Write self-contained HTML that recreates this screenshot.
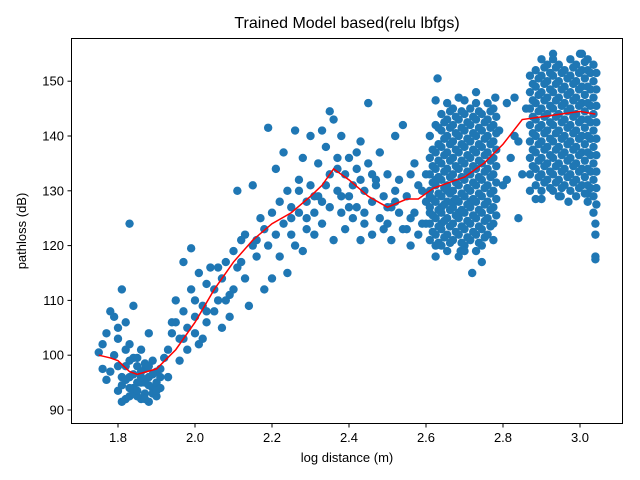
<!DOCTYPE html>
<html><head><meta charset="utf-8">
<style>
body{margin:0;background:#fff;}
svg{display:block;font-family:"Liberation Sans","DejaVu Sans",sans-serif;}
</style></head>
<body>
<svg id="chart" width="640" height="480" viewBox="0 0 640 480">
<rect width="640" height="480" fill="#fff"/>
<text x="347" y="28" text-anchor="middle" font-size="16">Trained Model based(relu lbfgs)</text>
<g id="plot"></g>
<rect x="71.5" y="38.5" width="551" height="385" fill="none" stroke="#000" stroke-width="1"/>
<g id="ticks"></g>
<text x="347" y="462" text-anchor="middle" font-size="13">log distance (m)</text>
<text transform="translate(26,231) rotate(-90)" text-anchor="middle" font-size="13">pathloss (dB)</text>
</svg>
<script>
const xTicks=[1.8,2.0,2.2,2.4,2.6,2.8,3.0];
const xTickLabels=["1.8","2.0","2.2","2.4","2.6","2.8","3.0"];
const yTicks=[90,100,110,120,130,140,150];
const yTickLabels=["90","100","110","120","130","140","150"];
const sparseX=[1.75,1.76,1.77,1.78,1.78,1.79,1.8,1.8,1.81,1.81,1.82,1.82,1.83,1.83,1.84,1.84,1.85,1.85,1.86,1.86,1.87,1.87,1.88,1.88,1.89,1.89,1.9,1.9,1.91,1.92,1.79,1.8,1.81,1.82,1.83,1.84,1.86,1.87,1.88,1.89,1.9,1.91,1.77,1.82,1.85,1.93,1.8,1.83,1.76,1.84,
1.81,1.82,1.83,1.84,1.85,1.86,1.87,1.88,1.89,1.9,1.85,1.87,1.83,1.88,1.91,1.86,
1.93,1.94,1.95,1.95,1.96,1.97,1.97,1.98,1.98,1.99,1.99,2.0,2.0,2.01,2.01,2.02,2.03,2.03,2.04,2.05,2.05,2.06,2.07,2.07,2.08,2.09,2.1,2.1,2.11,2.11,2.12,2.13,2.13,2.14,2.15,2.15,2.16,2.17,2.18,2.18,2.19,2.19,2.2,2.2,1.96,2.02,2.06,2.09,
1.94,1.97,2.0,2.03,2.08,2.12,2.16,
2.21,2.21,2.22,2.22,2.23,2.23,2.24,2.24,2.25,2.25,2.26,2.26,2.27,2.27,2.28,2.28,2.29,2.29,2.3,2.3,2.31,2.31,2.32,2.32,2.33,2.33,2.34,2.34,2.35,2.35,2.36,2.36,2.37,2.37,2.38,2.38,2.39,2.39,2.4,2.4,2.41,2.41,2.42,2.42,2.43,2.43,2.44,2.44,2.45,2.45,2.46,2.46,2.47,2.48,2.48,2.49,2.5,2.5,2.51,2.51,2.52,2.52,2.53,2.54,2.54,2.55,2.56,2.56,2.57,2.58,2.59,2.6,
2.25,2.29,2.33,2.37,2.4,2.43,2.46,2.49,2.52,2.55,2.58,2.47,2.5,2.53,2.56,2.59,2.57,2.35,2.38,2.44,2.42,2.31,2.27,2.6,2.6,
2.69,2.72,2.8,2.79,2.82,2.83,2.84,2.85,2.86,2.78,2.81,2.83,2.63,2.7,2.73,3.04,3.04,3.04,3.04,2.93,3.0,2.9,2.95,2.97,3.02,2.81,2.84];
const sparseY=[100.5,102,95.5,108,97,107,93.5,103,112,96,106,92,124,99,94,109,92.5,98,95,101,93,97.5,91.5,96,94,99,95,97,96,99.5,100,105,91.5,98,102,96.5,92,95,104,93,92.5,94,104,101,95,96,98,94,97.5,99.5,
94.5,95.5,92.5,93,93.5,97,92,94.5,96.5,93.5,99.5,98.5,96,98,97.5,96,
101,104,110,106,103,108,117,101,105,119.5,112,104,107,115,102,109,106,113,116,108,112,110,114,105,117,107,112,119,130,116,121,114,122,109,120,131,118,125,112,123,141.5,120,114,126,99,103,116,111,
106,103,110,108,110,117,121,
122,134,118,128,124,137,130,115,122,127,141,120,126,132,119,136,128,123,140,131,126,122,135,129,141,124,131,138,127,133,143,121,136,130,126,140,133,123,129,136,131,125,134,127,139,121,130,124,135,146,128,122,132,125,137,129,124,133,127,121,140,130,126,142,123,129,133,120,126,131,124,128,
125,125,128,134,127,132,133,123,128,123,122,131,127,132,125,130,135,144.5,129,126,137,129,130,124,133,
119,115,131,141,136,147,139,133,145,147,146,140,150.5,146.5,148,124,122,118,117.5,155,155,128.5,129,128,129.5,132,125];
const denseCols=[2.61,2.625,2.64,2.655,2.67,2.685,2.7,2.715,2.73,2.745,2.76,2.775,
2.87,2.885,2.9,2.915,2.93,2.945,2.96,2.975,2.99,3.005,3.02,3.035];
const denseVals=[
[121,124,127,130,133,136,140,126,129],
[118,122,125,128,131,134,137,142,146.5,120,132],
[120,123,126,129,132,135,138,141,144,127,124],
[119,122,125,128,131,134,137,140,143,146,130],
[121,124,127,130,133,136,139,142,145,128],
[118,122,125,128,131,134,137,140,143,126,147],
[120,123,126,129,132,135,138,141,144,119],
[121,124,127,130,133,136,139,142,145,128],
[119,122,125,128,131,134,137,140,143,146],
[120,123,126,129,132,135,138,141,144,117],
[122,125,128,131,134,137,140,143,146],
[124,127,130,133,136,139,142,145,121],
[133,136,139,142,145,148,151,130],
[131,134,137,140,143,146,149,152,128.5],
[130,133,136,139,142,145,148,151,154],
[132,135,138,141,144,147,150,153],
[130,133,136,139,142,145,148,151,154],
[129,132,135,138,141,144,147,150,153],
[131,134,137,140,143,146,149,152],
[130,133,136,139,142,145,148,151,154],
[129,132,135,138,141,144,147,150,153],
[131,134,137,140,143,146,149,152,155],
[128,131,134,137,140,143,146,149,152,154],
[126,129,132,135,138,141,144,147,150,153]];
const denseCols2=[2.6175,2.6325,2.6475,2.6625,2.6775,2.6925,2.7075,2.7225,2.7375,2.7525,2.7675,2.7825,
2.8775,2.8925,2.9075,2.9225,2.9375,2.9525,2.9675,2.9825,2.9975,3.0125,3.0275,3.0425];
const denseVals2=[
[122.5,125.5,128.5,131.5,134.5,137.5],
[120.5,123.5,126.5,129.5,132.5,135.5,138.5,141.5],
[121.5,124.5,127.5,130.5,133.5,136.5,139.5,142.5],
[120.5,123.5,126.5,129.5,132.5,135.5,138.5,141.5,144.5],
[122.5,125.5,128.5,131.5,134.5,137.5,140.5,143.5],
[120.5,123.5,126.5,129.5,132.5,135.5,138.5,141.5,144.5],
[121.5,124.5,127.5,130.5,133.5,136.5,139.5,142.5],
[122.5,125.5,128.5,131.5,134.5,137.5,140.5,143.5],
[120.5,123.5,126.5,129.5,132.5,135.5,138.5,141.5,144.5],
[121.5,124.5,127.5,130.5,133.5,136.5,139.5,142.5],
[123.5,126.5,129.5,132.5,135.5,138.5,141.5,144.5],
[125.5,128.5,131.5,134.5,137.5,140.5,143.5],
[134.5,137.5,140.5,143.5,146.5,149.5],
[132.5,135.5,138.5,141.5,144.5,147.5,150.5],
[131.5,134.5,137.5,140.5,143.5,146.5,149.5,152.5],
[130.5,133.5,136.5,139.5,142.5,145.5,148.5,151.5],
[131.5,134.5,137.5,140.5,143.5,146.5,149.5,152.5],
[130.5,133.5,136.5,139.5,142.5,145.5,148.5,151.5],
[132.5,135.5,138.5,141.5,144.5,147.5,150.5],
[131.5,134.5,137.5,140.5,143.5,146.5,149.5,152.5],
[130.5,133.5,136.5,139.5,142.5,145.5,148.5,151.5],
[129.5,132.5,135.5,138.5,141.5,144.5,147.5,150.5,153.5],
[130.5,133.5,136.5,139.5,142.5,145.5,148.5,151.5],
[127.5,130.5,133.5,136.5,139.5,142.5,145.5,148.5,151.5]];
const lineX=[1.75,1.78,1.8,1.83,1.85,1.9,1.95,2.0,2.05,2.1,2.15,2.2,2.25,2.3,2.33,2.36,2.4,2.45,2.5,2.55,2.58,2.62,2.7,2.75,2.8,2.85,2.9,2.95,3.0,3.04];
const lineY=[100,99.5,99,97,96.5,97.5,101,106,112,117,121,124,126,129,131,134,132,129,127,128.5,128.5,130.5,132.5,135,138.5,143,143.5,144,144.5,144];

const NS="http://www.w3.org/2000/svg";
function sx(v){return 118+(v-1.8)*385;}
function sy(v){return 410-(v-90)*5.48;}
const plot=document.getElementById('plot');
const ticks=document.getElementById('ticks');
function dot(x,y){
  const c=document.createElementNS(NS,'circle');
  c.setAttribute('cx',sx(x));c.setAttribute('cy',sy(y));c.setAttribute('r',4.2);
  c.setAttribute('fill','#1f77b4');
  
  
  plot.appendChild(c);
}
for(let i=0;i<sparseX.length;i++)dot(sparseX[i],sparseY[i]);
for(let i=0;i<denseCols.length;i++)for(const y of denseVals[i])dot(denseCols[i],y);
for(let i=0;i<denseCols2.length;i++)for(const y of denseVals2[i])dot(denseCols2[i],y);
const pl=document.createElementNS(NS,'polyline');
pl.setAttribute('points',lineX.map((x,i)=>sx(x)+','+sy(lineY[i])).join(' '));
pl.setAttribute('fill','none');pl.setAttribute('stroke','#ff0000');pl.setAttribute('stroke-width','1.5');


plot.appendChild(pl);
xTicks.forEach((t,i)=>{
  const x=sx(t);
  const l=document.createElementNS(NS,'line');
  l.setAttribute('x1',x);l.setAttribute('x2',x);l.setAttribute('y1',424);l.setAttribute('y2',427.5);l.setAttribute('stroke','#000');
  
  
  ticks.appendChild(l);
  const tx=document.createElementNS(NS,'text');
  tx.setAttribute('x',x);tx.setAttribute('y',442);tx.setAttribute('text-anchor','middle');tx.setAttribute('font-size','13');
  tx.textContent=xTickLabels[i];
  
  
  ticks.appendChild(tx);
});
yTicks.forEach((t,i)=>{
  const y=sy(t);
  const l=document.createElementNS(NS,'line');
  l.setAttribute('x1',67.5);l.setAttribute('x2',71);l.setAttribute('y1',y);l.setAttribute('y2',y);l.setAttribute('stroke','#000');
  
  
  ticks.appendChild(l);
  const tx=document.createElementNS(NS,'text');
  tx.setAttribute('x',64);tx.setAttribute('y',y+4.5);tx.setAttribute('text-anchor','end');tx.setAttribute('font-size','13');
  tx.textContent=yTickLabels[i];
  
  
  ticks.appendChild(tx);
});
</script>
</body></html>
